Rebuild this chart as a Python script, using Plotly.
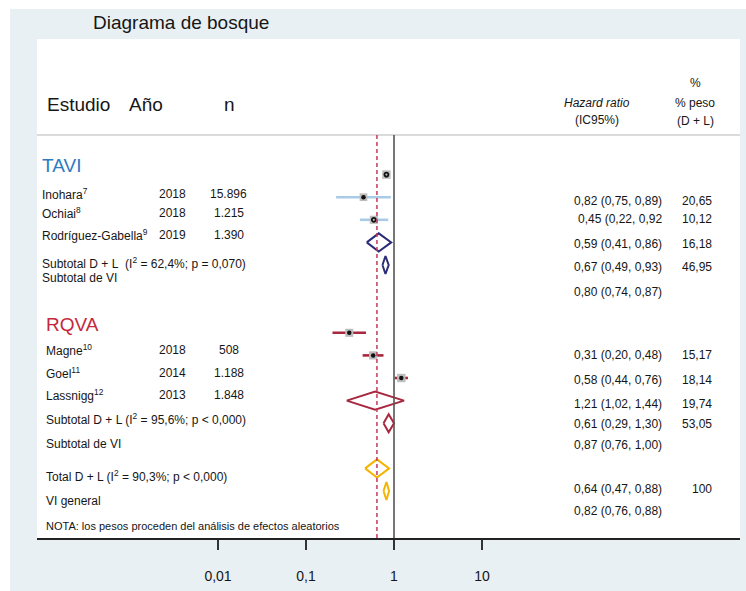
import plotly.graph_objects as go

# ---------------- data ----------------
tavi_names = ["Inohara<sup>7</sup>", "Ochiai<sup>8</sup>", "Rodríguez-Gabella<sup>9</sup>"]
tavi_years = ["2018", "2018", "2019"]
tavi_n = ["15.896", "1.215", "1.390"]
tavi_hr = [0.82, 0.45, 0.59]
tavi_lo = [0.75, 0.22, 0.41]
tavi_hi = [0.89, 0.92, 0.86]
tavi_w = [20.65, 10.12, 16.18]

rqva_names = ["Magne<sup>10</sup>", "Goel<sup>11</sup>", "Lassnigg<sup>12</sup>"]
rqva_years = ["2018", "2014", "2013"]
rqva_n = ["508", "1.188", "1.848"]
rqva_hr = [0.31, 0.58, 1.21]
rqva_lo = [0.20, 0.44, 1.02]
rqva_hi = [0.48, 0.76, 1.44]
rqva_w = [15.17, 18.14, 19.74]

# pooled estimates: [D + L, VI]
tavi_pool_hr = [0.67, 0.80]
tavi_pool_lo = [0.49, 0.74]
tavi_pool_hi = [0.93, 0.87]
rqva_pool_hr = [0.61, 0.87]
rqva_pool_lo = [0.29, 0.76]
rqva_pool_hi = [1.30, 1.00]
total_pool_hr = [0.64, 0.82]
total_pool_lo = [0.47, 0.76]
total_pool_hi = [0.88, 0.88]
overall_dl = 0.64

tavi_pool_labels = ["Subtotal D + L\u00a0 (I<sup>2</sup> = 62,4%; p = 0,070)", "Subtotal de VI"]
rqva_pool_labels = ["Subtotal D + L (I<sup>2</sup> = 95,6%; p &lt; 0,000)", "Subtotal de VI"]
total_labels = ["Total D + L (I<sup>2</sup> = 90,3%; p &lt; 0,000)", "VI general"]
note_text = "NOTA: los pesos proceden del análisis de efectos aleatorios"

tavi_hr_text = ["0,82 (0,75, 0,89)", "0,45 (0,22, 0,92", "0,59 (0,41, 0,86)",
                "0,67 (0,49, 0,93)", "0,80 (0,74, 0,87)"]
tavi_w_text = ["20,65", "10,12", "16,18", "46,95", ""]
rqva_hr_text = ["0,31 (0,20, 0,48)", "0,58 (0,44, 0,76)", "1,21 (1,02, 1,44)",
                "0,61 (0,29, 1,30)", "0,87 (0,76, 1,00)"]
rqva_w_text = ["15,17", "18,14", "19,74", "53,05", ""]
total_hr_text = ["0,64 (0,47, 0,88)", "0,82 (0,76, 0,88)"]
total_w_text = ["100", ""]

tick_vals = [0.01, 0.1, 1, 10]
tick_text = ["0,01", "0,1", "1", "10"]

# ---------------- layout / positions ----------------
W, H = 746, 591
L, R, T, B = 37, 740, 39, 538
ROW = 22.6                      # pixels per row
YMAX = (B - T) / ROW

tavi_rows = [6, 7, 8]
tavi_pool_rows = [9, 10]
rqva_rows = [13, 14, 15]
rqva_pool_rows = [16, 17]
total_rows = [19, 20]

# text rows
tavi_title_row = 5.58
tavi_label_rows = [6.86, 7.70, 8.67]
tavi_pool_label_rows = [9.93, 10.56]
rqva_title_row = 12.65
rqva_label_rows = [13.76, 14.78, 15.75]
rqva_pool_label_rows = [16.81, 17.92]
total_label_rows = [19.34, 20.44]
note_row = 21.55
tavi_val_rows = [7.15, 7.98, 9.07, 10.10, 11.18]
rqva_val_rows = [13.98, 15.09, 16.15, 17.04, 17.96]
total_val_rows = [19.91, 20.88]
sep_row = (135 - T) / ROW


def xp(px):
    return (px - L) / (R - L)


def yp(py):
    return (B - py) / (B - T)


FONT = "Liberation Sans, Arial, Helvetica, sans-serif"
TXT = "#161616"
BLUE = "#2d7cc1"
LBLUE = "#a9cbe8"
NAVY = "#2b2d78"
RED = "#c4283c"
DRED = "#a8283f"
YEL = "#f5b400"
BG = "#e8f0f3"

fig = go.Figure()


def add_study(hrs, los, his, ws, rows, line_color, open_flags):
    for hr, lo, hi, w, r, op in zip(hrs, los, his, ws, rows, open_flags):
        fig.add_trace(go.Scatter(x=[lo, hi], y=[r, r], mode="lines",
                                 line=dict(color=line_color, width=2.6),
                                 hoverinfo="skip", showlegend=False))
        fig.add_trace(go.Scatter(x=[hr], y=[r], mode="markers",
                                 marker=dict(symbol="square", size=7 + w * 0.07,
                                             color="#bdbdbd", line=dict(width=0)),
                                 hoverinfo="skip", showlegend=False))
        if op:
            mk = dict(symbol="circle-open", size=4, color="#111", line=dict(width=1.8, color="#111"))
        else:
            mk = dict(symbol="circle", size=4.5, color="#111")
        fig.add_trace(go.Scatter(x=[hr], y=[r], mode="markers", marker=mk,
                                 hoverinfo="skip", showlegend=False))


def add_diamonds(hrs, los, his, rows, color):
    hh = 0.4
    for hr, lo, hi, r in zip(hrs, los, his, rows):
        fig.add_trace(go.Scatter(x=[lo, hr, hi, hr, lo], y=[r, r - hh, r, r + hh, r],
                                 mode="lines", line=dict(color=color, width=2),
                                 hoverinfo="skip", showlegend=False))


add_study(tavi_hr, tavi_lo, tavi_hi, tavi_w, tavi_rows, LBLUE, [True, False, True])
add_diamonds(tavi_pool_hr, tavi_pool_lo, tavi_pool_hi, tavi_pool_rows, NAVY)
add_study(rqva_hr, rqva_lo, rqva_hi, rqva_w, rqva_rows, DRED, [False, False, False])
add_diamonds(rqva_pool_hr, rqva_pool_lo, rqva_pool_hi, rqva_pool_rows, DRED)
add_diamonds(total_pool_hr, total_pool_lo, total_pool_hi, total_rows, YEL)

shapes = [
    # white outer strips
    dict(type="rect", xref="paper", yref="paper", x0=xp(0), x1=xp(W), y0=yp(9), y1=yp(0),
         fillcolor="white", line=dict(width=0), layer="above"),
    dict(type="rect", xref="paper", yref="paper", x0=xp(0), x1=xp(10), y0=yp(H), y1=yp(0),
         fillcolor="white", line=dict(width=0), layer="above"),
    # header separator
    dict(type="line", xref="paper", yref="y", x0=0, x1=1, y0=sep_row, y1=sep_row,
         line=dict(color="#cfcfcf", width=1.5)),
    # null line
    dict(type="line", xref="x", yref="y", x0=1, x1=1, y0=sep_row, y1=YMAX,
         line=dict(color="#555555", width=1.6)),
    # overall effect line
    dict(type="line", xref="x", yref="y", x0=overall_dl, x1=overall_dl, y0=sep_row, y1=YMAX,
         line=dict(color="#c33a5c", width=1.5, dash="4px,3px")),
]

ann = []


def txt(x, y, s, size=12, anchor="left", color=TXT, yref="y", xref="paper"):
    ann.append(dict(x=x, y=y, xref=xref, yref=yref, text=s, showarrow=False,
                    xanchor=anchor, yanchor="middle",
                    font=dict(family=FONT, size=size, color=color)))


# title and headers
txt(xp(91), yp(22.7), "Diagrama de bosque", size=19, yref="paper")
txt(xp(45), 2.92, "Estudio", size=19)
txt(xp(126.5), 2.92, "Año", size=19)
txt(xp(230), 2.92, "n", size=19, anchor="center")
txt(xp(597), 2.82, "<i>Hazard ratio</i>", size=12, anchor="center")
txt(xp(597), 3.58, "(IC95%)", size=12, anchor="center")
txt(xp(695), 1.96, "%", size=12, anchor="center")
txt(xp(695), 2.82, "% peso", size=12, anchor="center")
txt(xp(695), 3.61, "(D + L)", size=12, anchor="center")

# TAVI block
txt(xp(39.5), tavi_title_row, "TAVI", size=19, color=BLUE)
for nm, yr, n, r in zip(tavi_names, tavi_years, tavi_n, tavi_label_rows):
    txt(xp(39.5), r, nm)
    txt(xp(157), r, yr)
    txt(xp(228.5), r, n, anchor="center")
for lab, r in zip(tavi_pool_labels, tavi_pool_label_rows):
    txt(xp(39.5), r, lab)

# RQVA block
txt(xp(43.5), rqva_title_row, "RQVA", size=19, color=RED)
for nm, yr, n, r in zip(rqva_names, rqva_years, rqva_n, rqva_label_rows):
    txt(xp(44), r, nm)
    txt(xp(157), r, yr)
    txt(xp(228.5), r, n, anchor="center")
for lab, r in zip(rqva_pool_labels, rqva_pool_label_rows):
    txt(xp(44), r, lab)
for lab, r in zip(total_labels, total_label_rows):
    txt(xp(44), r, lab)
txt(xp(44), note_row, note_text, size=11)

# right-hand columns
for hs, ws, rows in [(tavi_hr_text, tavi_w_text, tavi_val_rows),
                     (rqva_hr_text, rqva_w_text, rqva_val_rows),
                     (total_hr_text, total_w_text, total_val_rows)]:
    for h, w, r in zip(hs, ws, rows):
        txt(xp(664), r, h, size=12, anchor="right")
        if w:
            txt(xp(714), r, w, size=12, anchor="right")

x0 = (L - 394) / 88.0
x1 = (R - 394) / 88.0

fig.update_layout(
    width=W, height=H,
    margin=dict(l=L, r=W - R, t=T, b=H - B, pad=0),
    paper_bgcolor=BG, plot_bgcolor="white",
    showlegend=False,
    shapes=shapes, annotations=ann,
    xaxis=dict(type="log", range=[x0, x1], tickvals=tick_vals, ticktext=tick_text,
               showgrid=False, zeroline=False, showline=True, linecolor="#222222",
               linewidth=2, ticks="outside", ticklen=10, tickwidth=1.5, tickcolor="#333333",
               tickfont=dict(family=FONT, size=14, color=TXT), ticklabelstandoff=14,
               fixedrange=True),
    yaxis=dict(range=[YMAX, 0], visible=False, showgrid=False, zeroline=False,
               fixedrange=True),
)

fig.write_html("out.html", config={"displayModeBar": False},
               post_script="document.body.style.margin='0';")
